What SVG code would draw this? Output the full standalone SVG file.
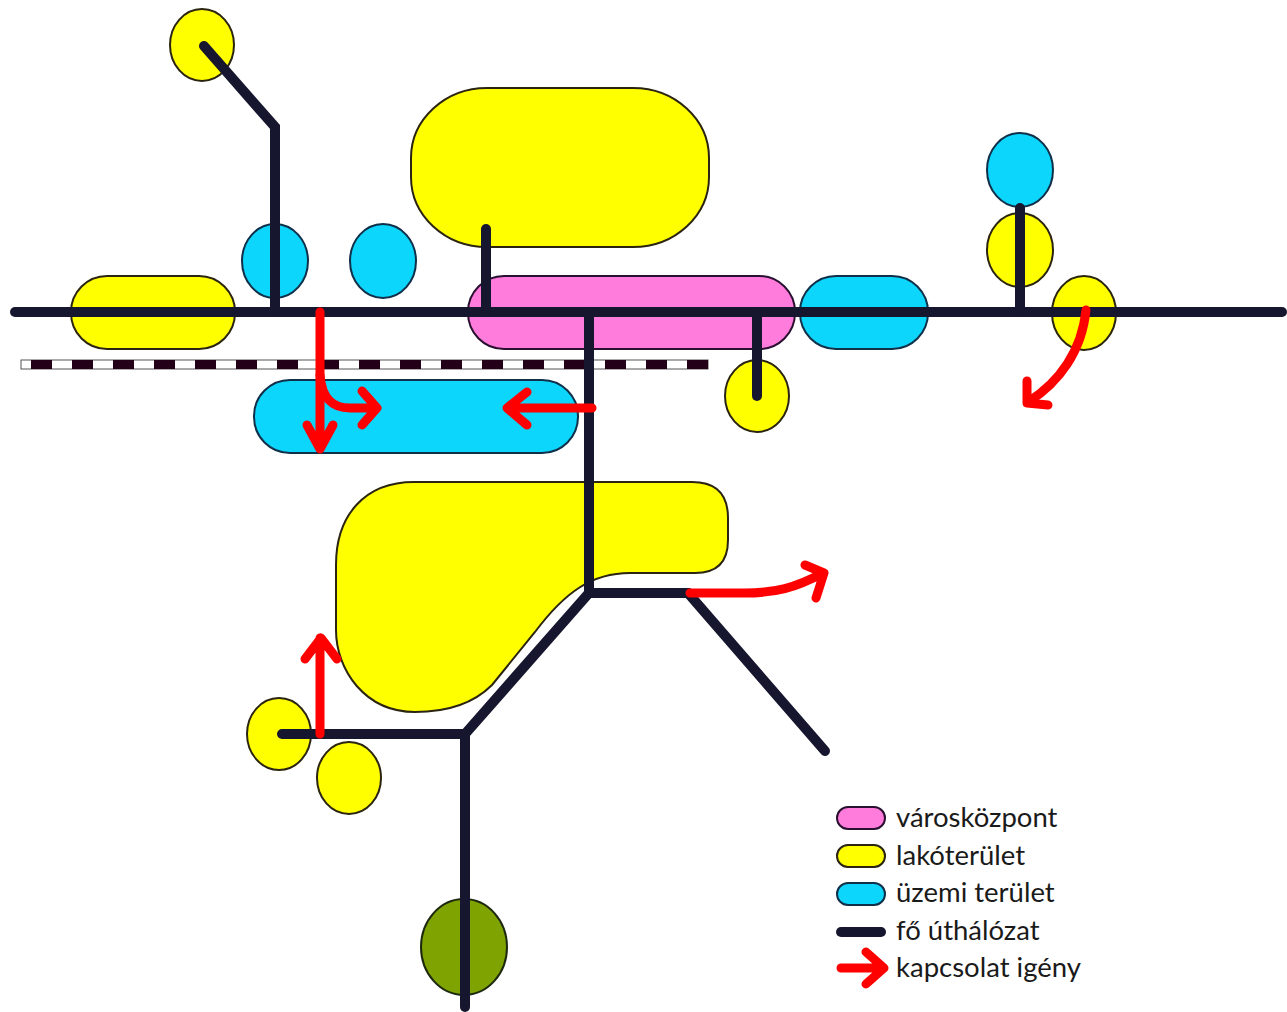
<svg xmlns="http://www.w3.org/2000/svg" width="1287" height="1012" viewBox="0 0 1287 1012">
<style>
.y{fill:#ffff00;stroke:#2a2410;stroke-width:2}
.b{fill:#0cd6fb;stroke:#10304a;stroke-width:2}
.p{fill:#ff7bdc;stroke:#2a1030;stroke-width:2}
.g{fill:#7fa300;stroke:#1e2a10;stroke-width:2}
.road{fill:none;stroke:#16162e;stroke-linecap:round;stroke-linejoin:miter}
.req{fill:none;stroke:#ff0000;stroke-width:9;stroke-linecap:round;stroke-linejoin:round}
text{font-family:"Lato","Liberation Sans",sans-serif;font-size:27.5px;fill:#1a1a1a}
</style>
<rect width="1287" height="1012" fill="#ffffff"/>
<g id="areas">
<g id="node-yellow-top-left"><ellipse class="y" cx="202" cy="45" rx="32" ry="36"/></g>
<g id="node-blue-1"><ellipse class="b" cx="275" cy="261" rx="33" ry="37"/></g>
<g id="node-blue-2"><ellipse class="b" cx="383" cy="261" rx="33" ry="37"/></g>
<g id="node-yellow-west"><rect class="y" x="71" y="276" width="164" height="73" rx="36" ry="36"/></g>
<g id="node-yellow-north"><rect class="y" x="411" y="88" width="298" height="159" rx="76" ry="70"/></g>
<g id="node-pink-center"><rect class="p" x="468" y="276" width="327" height="73" rx="36" ry="36"/></g>
<g id="node-blue-east"><rect class="b" x="800" y="276" width="128" height="73" rx="36" ry="36"/></g>
<g id="node-blue-ne"><ellipse class="b" cx="1020" cy="170" rx="33" ry="37"/></g>
<g id="node-yellow-ne"><ellipse class="y" cx="1020" cy="250" rx="33" ry="37"/></g>
<g id="node-yellow-e"><ellipse class="y" cx="1084" cy="313" rx="32" ry="37"/></g>
<g id="node-yellow-mid"><ellipse class="y" cx="757" cy="396" rx="32" ry="36"/></g>
<g id="node-blue-south"><rect class="b" x="254" y="380" width="324" height="73" rx="36" ry="36"/></g>
<g id="node-yellow-blob"><path class="y" d="M414 482H692Q728 482 728 518V540Q728 573 695 573H630C592 573 565 592 535 632L492 685C472 705 445 712 415 712C365 712 336 670 336 630V565C336 515 365 482 414 482Z"/></g>
<g id="node-yellow-sw1"><ellipse class="y" cx="279" cy="734" rx="32" ry="36"/></g>
<g id="node-yellow-sw2"><ellipse class="y" cx="349" cy="778" rx="32" ry="36"/></g>
<g id="node-green"><ellipse class="g" cx="464" cy="947" rx="43" ry="48"/></g>
</g>
<g id="railway">
<rect x="21" y="360" width="687" height="9" fill="#ffffff" stroke="#555555" stroke-width="1"/>
<path d="M31 364.500H708" stroke="#240018" stroke-width="9" stroke-dasharray="21 20" fill="none"/>
</g>
<g id="connectors">
<g class="road" stroke-width="10">
<path d="M15 312H1282"/>
<path d="M204 46L275 127V312"/>
<path d="M486 229V312"/>
<path d="M589 312V593"/>
<path d="M757 312V396"/>
<path d="M1020 208V312"/>
<path d="M282 734H465L589 593H688L825 751"/>
<path d="M465 734V1007"/>
</g>
<g id="requests">
<path class="req" d="M320 312V448M307 425L320 449L333 425"/>
<path class="req" d="M320 375C322 400 334 408 350 408H376M362 391L377 408L362 425"/>
<path class="req" d="M592 408H508M527 392L507 408L527 425"/>
<path class="req" d="M690 593H745C775 593 795 588 823 573M805 565L824 573L816 598"/>
<path class="req" d="M320 734V638M305 659L321 638L337 659"/>
<path class="req" d="M1086 310C1082 350 1060 382 1028 402M1027 381L1027 403L1048 405"/>
</g>
</g>
<g id="legend">
<rect class="p" x="837" y="807" width="48" height="22" rx="11" stroke-width="3"/>
<text x="896" y="827">városközpont</text>
<rect class="y" x="837" y="845" width="48" height="22" rx="11" stroke-width="3"/>
<text x="896" y="865">lakóterület</text>
<rect class="b" x="837" y="883" width="48" height="22" rx="11" stroke-width="3"/>
<text x="896" y="902">üzemi terület</text>
<path class="road" stroke-width="10" d="M841 932H881"/>
<text x="896" y="940">fő úthálózat</text>
<path class="req" stroke-width="10" d="M841 968H883M866 952L884 968L866 984"/>
<text x="896" y="977">kapcsolat igény</text>
</g>
</svg>
